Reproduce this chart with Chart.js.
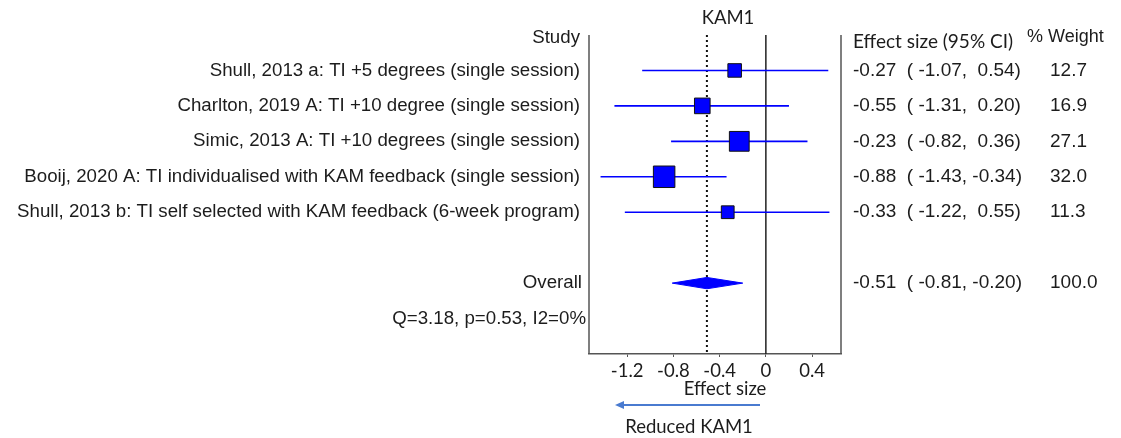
<!DOCTYPE html>
<html>
<head>
<meta charset="utf-8">
<script src="https://cdn.jsdelivr.net/npm/chart.js@4/dist/chart.umd.min.js"></script>
<style>
  html, body { margin: 0; padding: 0; background: #fff; }
  #wrap { width: 1121px; height: 438px; position: relative; }
</style>
</head>
<body>
<div id="wrap"><canvas id="forest"></canvas></div>
<script>
const studies = [
    "Shull, 2013 a: TI +5 degrees (single session)",
    "Charlton, 2019 A: TI +10 degree (single session)",
    "Simic, 2013 A: TI +10 degrees (single session)",
    "Booij, 2020 A: TI individualised with KAM feedback (single session)",
    "Shull, 2013 b: TI self selected with KAM feedback (6-week program)"
];
const effects = [-0.27, -0.55, -0.23, -0.88, -0.33];
const ciLow = [-1.07, -1.31, -0.82, -1.43, -1.22];
const ciHigh = [0.54, 0.20, 0.36, -0.34, 0.55];
const weights = [12.7, 16.9, 27.1, 32.0, 11.3];
const overallEffect = -0.51, overallLow = -0.81, overallHigh = -0.20, overallWeight = 100.0;
const heterogeneity = "Q=3.18, p=0.53, I2=0%";
const xTicks = [-1.2, -0.8, -0.4, 0, 0.4];
const outcome = "KAM1";

const BLUE = "#0000ff", INK = "#1c1c1c";
const ARIAL = '"Liberation Sans", Arial, sans-serif', CAL = 'Lato, "Open Sans", sans-serif';
const ROW_OVERALL = studies.length + 2, ROW_Q = studies.length + 3, Y_MAX = studies.length + 4;

const f2 = v => v.toFixed(2);
const ciText = (e, lo, hi) => `${f2(e)}  ( ${f2(lo)},${hi < 0 ? " " : "  "}${f2(hi)})`;

const ciSets = studies.map((s, i) => ({
    type: "line", showLine: true, data: [{ x: ciLow[i], y: i + 1 }, { x: ciHigh[i], y: i + 1 }],
    borderColor: BLUE, borderWidth: 1.6, pointRadius: 0, fill: false
}));
const diamondH = 0.16;
const diamond = {
    type: "line", showLine: true, fill: "shape", tension: 0,
    data: [{ x: overallLow, y: ROW_OVERALL }, { x: overallEffect, y: ROW_OVERALL - diamondH },
           { x: overallHigh, y: ROW_OVERALL }, { x: overallEffect, y: ROW_OVERALL + diamondH },
           { x: overallLow, y: ROW_OVERALL }],
    borderColor: BLUE, backgroundColor: BLUE, borderWidth: 1, pointRadius: 0
};
const squares = {
    type: "scatter", data: effects.map((e, i) => ({ x: e, y: i + 1 })),
    pointStyle: "rect", pointRadius: weights.map(w => 3.8 * Math.sqrt(w) / Math.SQRT2),
    backgroundColor: BLUE, borderColor: "#111", borderWidth: 1
};
const overallLine = {
    type: "line", showLine: true, data: [{ x: overallEffect, y: 0 }, { x: overallEffect, y: Y_MAX }],
    borderColor: "#111", borderWidth: 2, borderDash: [2, 3], pointRadius: 0
};
const zeroLine = {
    type: "line", showLine: true, data: [{ x: 0, y: 0 }, { x: 0, y: Y_MAX }],
    borderColor: "#222", borderWidth: 1.5, pointRadius: 0
};

const forestText = {
    id: "forestText",
    afterDraw(chart) {
        const { ctx, chartArea: a, scales: { x, y } } = chart;
        ctx.save();
        // side frame of the plot box
        ctx.strokeStyle = "#555"; ctx.lineWidth = 1.5;
        ctx.beginPath();
        ctx.moveTo(a.left, a.top); ctx.lineTo(a.left, a.bottom);
        ctx.moveTo(a.right, a.top); ctx.lineTo(a.right, a.bottom);
        ctx.stroke();

        ctx.fillStyle = INK; ctx.textBaseline = "middle";
        ctx.font = `18.5px ${CAL}`; ctx.textAlign = "center";
        ctx.fillText(outcome, 728, 18);

        ctx.font = `18.7px ${ARIAL}`; ctx.textAlign = "right";
        ctx.fillText("Study", 580, 38);
        studies.forEach((s, i) => ctx.fillText(s, 580, y.getPixelForValue(i + 1)));
        ctx.fillText("Overall", 582, y.getPixelForValue(ROW_OVERALL));
        ctx.fillText(heterogeneity, 586, y.getPixelForValue(ROW_Q));

        ctx.textAlign = "left";
        ctx.font = `19px ${CAL}`;
        ctx.fillText("Effect size (95% CI)", 853, 42);
        ctx.font = `18px ${ARIAL}`;
        ctx.fillText("% Weight", 1027, 37);
        ctx.font = `19px ${ARIAL}`;
        studies.forEach((s, i) => {
            const py = y.getPixelForValue(i + 1);
            ctx.fillText(ciText(effects[i], ciLow[i], ciHigh[i]), 853, py);
            ctx.fillText(weights[i].toFixed(1), 1050, py);
        });
        const po = y.getPixelForValue(ROW_OVERALL);
        ctx.fillText(ciText(overallEffect, overallLow, overallHigh), 853, po);
        ctx.fillText(overallWeight.toFixed(1), 1050, po);

        ctx.textAlign = "center"; ctx.font = `18.5px ${CAL}`;
        ctx.fillText("Effect size", 725, 389);

        // direction arrow
        const ax1 = 760, ax2 = 615, ay = 405;
        ctx.strokeStyle = "#4a7bd0"; ctx.fillStyle = "#4a7bd0"; ctx.lineWidth = 2;
        ctx.beginPath(); ctx.moveTo(ax1, ay); ctx.lineTo(ax2 + 6, ay); ctx.stroke();
        ctx.beginPath(); ctx.moveTo(ax2, ay); ctx.lineTo(ax2 + 9, ay - 4); ctx.lineTo(ax2 + 9, ay + 4); ctx.closePath(); ctx.fill();

        ctx.fillStyle = INK; ctx.font = `18.5px ${CAL}`;
        ctx.fillText("Reduced " + outcome, 689, 427);
        ctx.restore();
    }
};

new Chart(document.getElementById("forest"), {
    type: "scatter",
    data: { datasets: [squares, ...ciSets, diamond, overallLine, zeroLine] },
    options: {
        responsive: true, maintainAspectRatio: false, animation: false,
        layout: { padding: { left: 589, right: 280, top: 35, bottom: 0 } },
        plugins: { legend: { display: false }, tooltip: { enabled: false } },
        scales: {
            x: {
                type: "linear", min: -1.53, max: 0.65,
                afterBuildTicks: s => { s.ticks = xTicks.map(v => ({ value: v })); },
                afterFit: s => { s.height = 84; },
                ticks: { color: INK, font: { family: CAL, size: 18.5 }, padding: 3,
                         callback: v => v === 0 ? "0" : v.toFixed(1) },
                grid: { drawOnChartArea: false, tickLength: 3, color: "#555" },
                border: { display: true, color: "#555", width: 1.5 }
            },
            y: { type: "linear", min: 0, max: Y_MAX, reverse: true, display: false }
        }
    },
    plugins: [forestText]
});
</script>
</body>
</html>
